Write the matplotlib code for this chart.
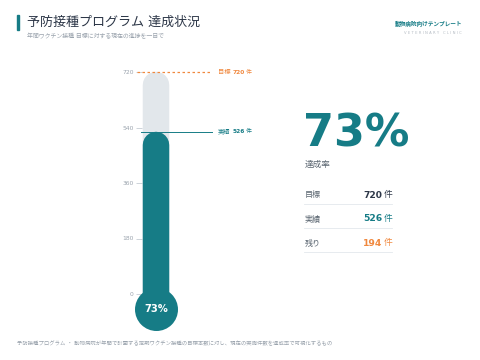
import matplotlib
matplotlib.use("Agg")
import matplotlib.pyplot as plt
from matplotlib.transforms import offset_copy

plt.rcParams['font.family'] = ['DejaVu Sans', 'Noto Sans CJK JP']

# ---- data ----
target = 720
actual = 526
remaining = target - actual
rate = round(actual / target * 100)
y_ticks = [0, 180, 360, 540, 720]
row_labels = ["目標", "実績", "残り"]
row_values = [target, actual, remaining]

title = "予防接種プログラム 達成状況"
subtitle = "年間ワクチン接種 目標に対する現在の進捗を一目で"
brand = "動物病院向けテンプレート"
brand_sub = "V E T E R I N A R Y   C L I N I C"
footer = "予防接種プログラム ・ 動物病院が年間で計画する定期ワクチン接種の目標本数に対し、現在の実施件数を達成率で可視化するもの"

TEAL = "#167c86"
ORANGE = "#f0883e"
GREY_TUBE = "#e2e7eb"
DARK = "#2d3748"
MUTED = "#9aa3ad"

W, H = 480, 360
fig = plt.figure(figsize=(4.8, 3.6), dpi=100)
fig.patch.set_facecolor("white")

def fx(x):
    return x / W

def fy(y):
    return 1 - y / H

# ---- thermometer axes (pixel geometry) ----
ax_left, ax_top, ax_bot, ax_w = 142, 72, 294, 150
ax = fig.add_axes([fx(ax_left), fy(ax_bot), ax_w / W, (ax_bot - ax_top) / H])
ax.set_xlim(0, ax_w)
ax.set_ylim(0, target)
for s in ax.spines.values():
    s.set_visible(False)
ax.set_xticks([])
ax.set_yticks(y_ticks)
ax.set_yticklabels([str(v) for v in y_ticks])
ax.tick_params(axis='y', length=4, width=0.6, color="#c5ccd3", labelsize=4.3,
               labelcolor=MUTED, pad=2)
ax.patch.set_alpha(0)

px_per_unit = (ax_bot - ax_top) / target
tube_x = 14
tube_w_px = 26.5
cap = (tube_w_px / 2) / px_per_unit
lw = tube_w_px * 0.72
bulb_y = -15 / px_per_unit

ax.plot([tube_x, tube_x], [bulb_y, target - cap], color=GREY_TUBE, lw=lw,
        solid_capstyle='round', clip_on=False, zorder=1)
ax.plot([tube_x, tube_x], [bulb_y, actual - cap], color=TEAL, lw=lw,
        solid_capstyle='round', clip_on=False, zorder=2)
ax.plot([tube_x], [bulb_y], marker='o', markersize=43 * 0.72, color=TEAL,
        markeredgewidth=0, clip_on=False, zorder=3)
ax.text(tube_x, bulb_y, f"{rate}%", color="white", fontsize=7.2, fontweight='bold',
        ha='center', va='center', zorder=4, clip_on=False)

# target and actual lines
ax.plot([-5, 70], [target, target], color=ORANGE, lw=0.9, ls=(0, (2, 2)),
        clip_on=False, zorder=4)
ax.plot([-1, 70], [actual, actual], color=TEAL, lw=0.7, clip_on=False, zorder=4)

def marker_label(y, label, value, color):
    ax.text(76, y, label, color=color, fontsize=4.5, va='center', ha='left', clip_on=False)
    t2 = offset_copy(ax.transData, fig=fig, x=14.5 * 0.72, y=0, units='points')
    ax.text(76, y, str(value), color=color, fontsize=4.2, fontweight='bold',
            va='center', ha='left', transform=t2, clip_on=False)
    t3 = offset_copy(ax.transData, fig=fig, x=27.5 * 0.72, y=0, units='points')
    ax.text(76, y, "件", color=color, fontsize=4.3, va='center', ha='left',
            transform=t3, clip_on=False)

marker_label(target, "目標", target, ORANGE)
marker_label(actual, "実績", actual, TEAL)

# ---- header ----
fig.patches.append(plt.Rectangle((fx(17), fy(30)), 2 / W, 15 / H, color=TEAL,
                                 transform=fig.transFigure, figure=fig))
fig.text(fx(27), fy(22), title, fontsize=9.4, color=DARK, va='center', ha='left')
fig.text(fx(27), fy(36.5), subtitle, fontsize=4.25, color=MUTED, va='center', ha='left')
fig.text(fx(462), fy(24), brand, fontsize=4.1, color=TEAL, fontweight='bold',
         va='center', ha='right')
fig.text(fx(462), fy(32.5), brand_sub, fontsize=2.7, color="#b5bcc4",
         va='center', ha='right')

# ---- right panel ----
fig.text(fx(303.5), fy(134), f"{rate}%", fontsize=32, fontweight='bold', color=TEAL,
         va='center', ha='left')
fig.text(fx(305), fy(164.5), "達成率", fontsize=6.2, color="#5a6570", va='center', ha='left')

row_colors = [DARK, TEAL, ORANGE]
row_y = [195, 219, 243]
for lab, val, col, yy in zip(row_labels, row_values, row_colors, row_y):
    fig.text(fx(305), fy(yy), lab, fontsize=5.8, color="#5a6570", va='center', ha='left')
    fig.text(fx(392), fy(yy), "件", fontsize=6.3, color=col, va='center', ha='right')
    fig.text(fx(382.5), fy(yy), str(val), fontsize=6.6, fontweight='bold', color=col,
             va='center', ha='right')
    fig.lines.append(plt.Line2D([fx(304), fx(392)], [fy(yy + 9), fy(yy + 9)],
                                color="#e3e8ec", lw=0.6, transform=fig.transFigure))

# ---- footer ----
fig.text(fx(17), fy(343.5), footer, fontsize=3.85, color=MUTED, va='center', ha='left')

fig.savefig("out.png", dpi=100, facecolor="white")
